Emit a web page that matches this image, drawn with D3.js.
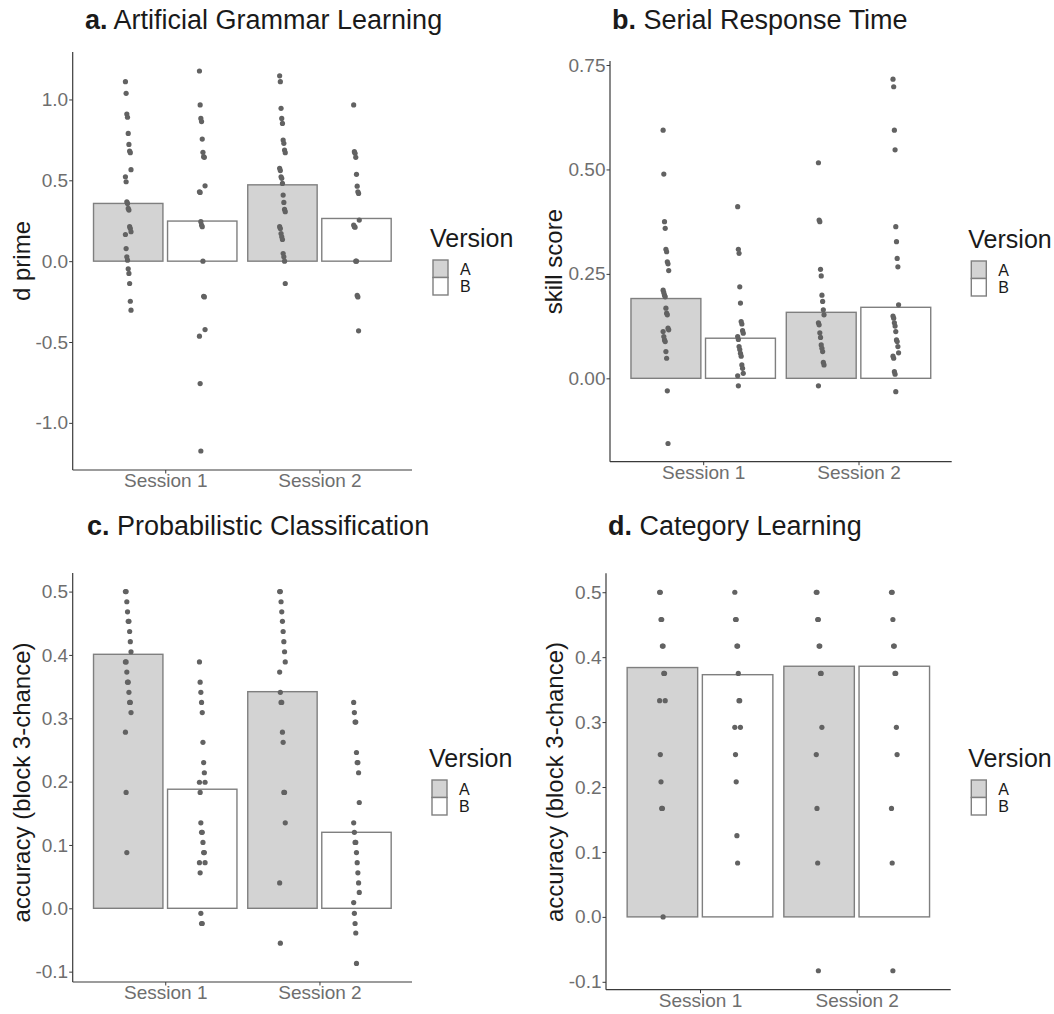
<!DOCTYPE html>
<html>
<head>
<meta charset="utf-8">
<script src="https://cdn.jsdelivr.net/npm/d3@7"></script>
<style>
  body { margin: 0; background: #fff; }
  text { font-family: "Liberation Sans", Arial, Helvetica, sans-serif; }
</style>
</head>
<body>
<svg id="fig" width="1054" height="1014"></svg>
<script>
// ---- data ----
const sessions = ["Session 1", "Session 2"];
const versions = ["A", "B"];

// bar heights, order: S1 A, S1 B, S2 A, S2 B
const aglMeans = [0.357, 0.248, 0.472, 0.264];
const srtMeans = [0.191, 0.096, 0.158, 0.170];
const pcMeans  = [0.401, 0.188, 0.342, 0.120];
const clMeans  = [0.384, 0.373, 0.386, 0.386];

// individual participants
const aglS1A = [1.110,1.038,0.910,0.890,0.790,0.722,0.681,0.671,0.566,0.522,0.491,0.367,0.357,0.326,0.316,0.213,0.202,0.182,0.165,0.078,0.027,0.006,-0.047,-0.076,-0.138,-0.248,-0.303];
const aglS1B = [1.176,0.966,0.883,0.863,0.755,0.673,0.646,0.642,0.466,0.429,0.425,0.244,0.223,0.213,0.0,-0.217,-0.221,-0.423,-0.464,-0.757,-1.174];
const aglS2A = [1.146,1.110,0.945,0.883,0.852,0.749,0.729,0.687,0.671,0.574,0.560,0.522,0.512,0.481,0.409,0.363,0.320,0.306,0.213,0.202,0.171,0.151,0.134,0.047,0.027,0.0,-0.138];
const aglS2B = [0.966,0.677,0.667,0.642,0.537,0.464,0.429,0.419,0.254,0.223,0.213,0.210,0.0,0.0,-0.212,-0.221,-0.431];

const srtS1A = [0.594,0.489,0.375,0.359,0.309,0.303,0.279,0.274,0.258,0.211,0.205,0.199,0.195,0.168,0.156,0.152,0.120,0.116,0.112,0.100,0.092,0.088,0.064,0.048,-0.030,-0.156];
const srtS1B = [0.411,0.309,0.299,0.219,0.180,0.136,0.130,0.114,0.108,0.100,0.093,0.076,0.069,0.060,0.053,0.032,0.024,0.012,0.006,-0.018];
const srtS2A = [0.516,0.379,0.375,0.261,0.245,0.199,0.184,0.164,0.152,0.133,0.128,0.109,0.098,0.080,0.072,0.064,0.038,0.032,-0.018];
const srtS2B = [0.716,0.698,0.594,0.547,0.363,0.327,0.287,0.267,0.176,0.149,0.144,0.133,0.125,0.112,0.092,0.088,0.076,0.061,0.053,0.048,0.016,0.010,-0.032];

const pcS1A = [0.5,0.5,0.484,0.468,0.453,0.453,0.437,0.421,0.405,0.389,0.389,0.373,0.357,0.357,0.341,0.325,0.325,0.309,0.278,0.183,0.088];
const pcS1B = [0.389,0.357,0.341,0.325,0.309,0.262,0.230,0.214,0.199,0.199,0.183,0.135,0.120,0.120,0.104,0.088,0.088,0.072,0.072,0.056,-0.008,-0.024,-0.024];
const pcS2A = [0.5,0.5,0.484,0.468,0.453,0.437,0.421,0.405,0.389,0.373,0.341,0.325,0.325,0.278,0.262,0.183,0.183,0.135,0.040,-0.055];
const pcS2B = [0.325,0.309,0.294,0.294,0.246,0.230,0.230,0.214,0.167,0.135,0.120,0.104,0.104,0.088,0.072,0.056,0.040,0.025,0.009,-0.008,-0.024,-0.039,-0.087];

const clS1A = [0.5,0.5,0.458,0.458,0.417,0.417,0.375,0.375,0.333,0.333,0.25,0.208,0.167,0.167,0.0];
const clS1B = [0.5,0.458,0.458,0.417,0.417,0.375,0.333,0.333,0.292,0.292,0.25,0.208,0.125,0.083];
const clS2A = [0.5,0.5,0.458,0.458,0.417,0.417,0.375,0.375,0.292,0.25,0.167,0.083,-0.083];
const clS2B = [0.5,0.5,0.458,0.417,0.417,0.375,0.375,0.292,0.25,0.167,0.083,-0.083];

const aglTicks = [-1.0, -0.5, 0.0, 0.5, 1.0];
const srtTicks = [0.00, 0.25, 0.50, 0.75];
const accTicks = [-0.1, 0.0, 0.1, 0.2, 0.3, 0.4, 0.5];

// ---- panels: data + where they sit on the page ----
const panels = [
  { tag: "a.", title: " Artificial Grammar Learning", ylab: "d prime",
    means: aglMeans, pts: [aglS1A, aglS1B, aglS2A, aglS2B], ticks: aglTicks, dec: 1,
    x0: 72.7, x1: 412, y0: 470, y1: 52,
    tx: 85, ty: 29, lx: 30, ly: 261, gx: 430, gy: 247 },
  { tag: "b.", title: " Serial Response Time", ylab: "skill score",
    means: srtMeans, pts: [srtS1A, srtS1B, srtS2A, srtS2B], ticks: srtTicks, dec: 2,
    x0: 610, x1: 951.7, y0: 461.7, y1: 61,
    tx: 612, ty: 29.3, lx: 562, ly: 261.7, gx: 968.3, gy: 248 },
  { tag: "c.", title: " Probabilistic Classification", ylab: "accuracy (block 3-chance)",
    means: pcMeans, pts: [pcS1A, pcS1B, pcS2A, pcS2B], ticks: accTicks, dec: 1,
    x0: 72.7, x1: 412, y0: 982, y1: 573,
    tx: 87, ty: 535, lx: 30, ly: 782.5, gx: 429, gy: 767 },
  { tag: "d.", title: " Category Learning", ylab: "accuracy (block 3-chance)",
    means: clMeans, pts: [clS1A, clS1B, clS2A, clS2B], ticks: accTicks, dec: 1,
    x0: 606, x1: 950.7, y0: 989.7, y1: 573.3,
    tx: 608, ty: 535, lx: 563, ly: 782, gx: 968.3, gy: 767 }
];

const fills = { A: "#d3d3d3", B: "#ffffff" };
const barStroke = "#7f7f7f";
const dotColor = "#626262";
const axisColor = "#3a3a3a";
const tickText = "#6e6e6e";

// deterministic small horizontal spread for the dots
const jitter = i => ((i * 37) % 9 - 4) * 0.7;

const svg = d3.select("#fig");

panels.forEach(p => {
  const g = svg.append("g");

  const x = d3.scalePoint().domain(sessions).range([p.x0, p.x1]).padding(0.6);
  const step = x.step();

  // ggplot style 5% expansion around data + 0
  const all = p.pts.flat().concat([0]);
  const lo = d3.min(all), hi = d3.max(all), pad = (hi - lo) * 0.05;
  const y = d3.scaleLinear().domain([lo - pad, hi + pad]).range([p.y0, p.y1]);

  const groups = [];
  sessions.forEach((s, si) => versions.forEach((v, vi) => {
    const k = si * 2 + vi;
    groups.push({ s, v, mean: p.means[k], pts: p.pts[k],
                  cx: x(s) + (vi === 0 ? -1 : 1) * 0.24 * step });
  }));

  const bw = 0.45 * step;

  g.selectAll("rect.bar").data(groups).enter()
    .append("rect").attr("class", "bar")
    .attr("x", d => d.cx - bw / 2)
    .attr("width", bw)
    .attr("y", d => y(Math.max(d.mean, 0)))
    .attr("height", d => Math.abs(y(d.mean) - y(0)))
    .style("fill", d => fills[d.v])
    .style("stroke", barStroke)
    .style("stroke-width", 1.4);

  groups.forEach(gr => {
    g.selectAll(null).data(gr.pts).enter()
      .append("circle")
      .attr("cx", (d, i) => gr.cx + jitter(i))
      .attr("cy", d => y(d))
      .attr("r", 2.6)
      .style("fill", dotColor);
  });

  // axes
  const yAxis = d3.axisLeft(y).tickValues(p.ticks).tickSize(3.5).tickPadding(1)
    .tickFormat(d => d.toFixed(p.dec));
  const ya = g.append("g").attr("transform", `translate(${p.x0},0)`).call(yAxis);
  const xAxis = d3.axisBottom(x).tickSize(3.5).tickPadding(0);
  const xa = g.append("g").attr("transform", `translate(0,${p.y0})`).call(xAxis);

  [ya, xa].forEach(a => {
    a.select(".domain").remove();
    a.selectAll(".tick line").style("stroke", axisColor);
    a.selectAll(".tick text").style("fill", tickText).style("font-size", "19px");
  });

  g.append("line").attr("x1", p.x0).attr("x2", p.x0).attr("y1", p.y1).attr("y2", p.y0)
    .style("stroke", axisColor).style("stroke-width", 1.2);
  g.append("line").attr("x1", p.x0).attr("x2", p.x1).attr("y1", p.y0).attr("y2", p.y0)
    .style("stroke", axisColor).style("stroke-width", 1.2);

  // title
  const t = g.append("text").attr("x", p.tx).attr("y", p.ty)
    .style("font-size", "27px").style("fill", "#1a1a1a");
  t.append("tspan").style("font-weight", "bold").text(p.tag);
  t.append("tspan").text(p.title);

  // y label
  g.append("text")
    .attr("transform", `translate(${p.lx},${p.ly}) rotate(-90)`)
    .attr("text-anchor", "middle")
    .style("font-size", "24px").style("fill", "#1a1a1a")
    .text(p.ylab);

  // legend
  const leg = g.append("g");
  leg.append("text").attr("x", p.gx).attr("y", p.gy)
    .style("font-size", "25px").style("fill", "#1a1a1a").text("Version");
  versions.forEach((v, i) => {
    const top = p.gy + 13 + i * 17.5;
    leg.append("rect").attr("x", p.gx + 3).attr("y", top)
      .attr("width", 15).attr("height", 17.5)
      .style("fill", fills[v]).style("stroke", barStroke).style("stroke-width", 1.4);
    leg.append("text").attr("x", p.gx + 30).attr("y", top + 14.5)
      .style("font-size", "16px").style("fill", "#1a1a1a").text(v);
  });
});
</script>
</body>
</html>
